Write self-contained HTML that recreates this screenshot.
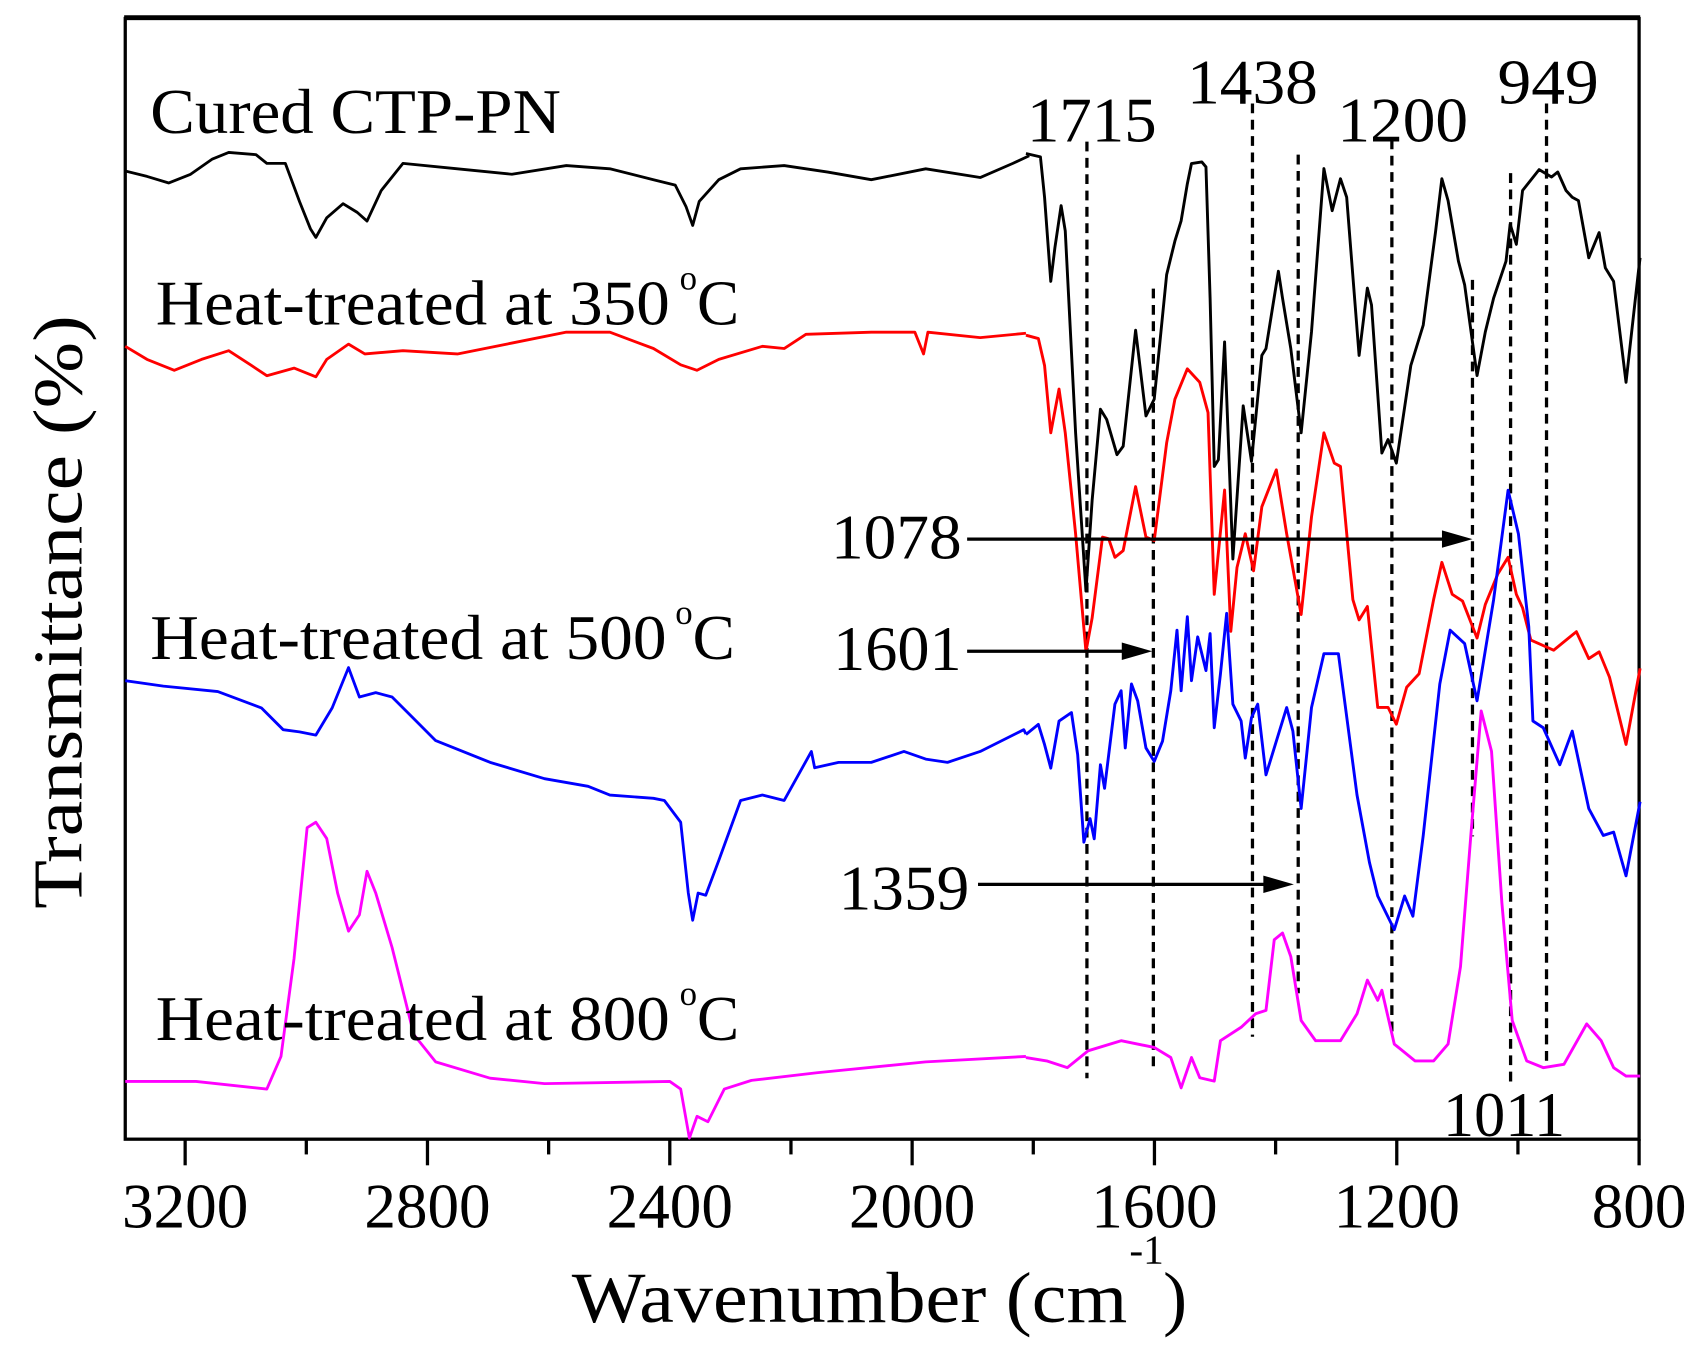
<!DOCTYPE html>
<html><head><meta charset="utf-8"><style>
html,body{margin:0;padding:0;background:#fff;}
svg{display:block;}
text{font-family:"Liberation Serif",serif;fill:#000;}
</style></head><body>
<svg width="1699" height="1357" viewBox="0 0 1560 1246" preserveAspectRatio="none" xmlns="http://www.w3.org/2000/svg">
<rect x="115" y="17" width="1390" height="1029" fill="none" stroke="#000" stroke-width="3"/>
<line x1="114" y1="16" x2="1506" y2="16" stroke="#000" stroke-width="4"/>
<g stroke="#000" stroke-width="3">
<line x1="170" y1="1046" x2="170" y2="1070"/><line x1="281.25" y1="1046" x2="281.25" y2="1060"/>
<line x1="392.5" y1="1046" x2="392.5" y2="1070"/><line x1="503.75" y1="1046" x2="503.75" y2="1060"/>
<line x1="615" y1="1046" x2="615" y2="1070"/><line x1="726.25" y1="1046" x2="726.25" y2="1060"/>
<line x1="837.5" y1="1046" x2="837.5" y2="1070"/><line x1="948.75" y1="1046" x2="948.75" y2="1060"/>
<line x1="1060" y1="1046" x2="1060" y2="1070"/><line x1="1171.25" y1="1046" x2="1171.25" y2="1060"/>
<line x1="1282.5" y1="1046" x2="1282.5" y2="1070"/><line x1="1393.75" y1="1046" x2="1393.75" y2="1060"/>
<line x1="1505" y1="1046" x2="1505" y2="1070"/>
</g>
<g font-size="58" text-anchor="middle">
<text x="170" y="1127">3200</text><text x="392.5" y="1127">2800</text><text x="615" y="1127">2400</text>
<text x="837.5" y="1127">2000</text><text x="1060" y="1127">1600</text><text x="1282.5" y="1127">1200</text>
<text x="1505" y="1127">800</text>
</g>
<text x="525" y="1214" font-size="66" textLength="510" lengthAdjust="spacingAndGlyphs">Wavenumber (cm</text>
<text x="1037" y="1160" font-size="38">-1</text>
<text x="1068" y="1214" font-size="66">)</text>
<text transform="translate(75,562) rotate(-90)" font-size="64" text-anchor="middle" textLength="545" lengthAdjust="spacingAndGlyphs">Transmittance (%)</text>

<g stroke="#000" stroke-width="3" stroke-dasharray="9,6">
<line x1="998" y1="130" x2="998" y2="990"/>
<line x1="1059" y1="265" x2="1059" y2="985"/>
<line x1="1150" y1="95" x2="1150" y2="952"/>
<line x1="1192" y1="142" x2="1192" y2="912"/>
<line x1="1278" y1="128" x2="1278" y2="950"/>
<line x1="1352" y1="257" x2="1352" y2="768"/>
<line x1="1387" y1="159" x2="1387" y2="993"/>
<line x1="1420" y1="95" x2="1420" y2="975"/>
</g>

<g fill="none" stroke="#000" stroke-width="2.6" stroke-linejoin="round">
<polyline points="115,157 135,162 155,168 175,160 195,146 210,140 235,142 245,150 262,150 275,185 285,210 290,218 300,200 315,187 328,195 337,203 350,175 370,150 420,155 470,160 520,152 560,155 600,165 620,170 630,190 636,207 642,185 660,165 680,155 720,152 760,158 800,165 850,155 900,163 930,150 945,143"/>
<polyline transform="translate(942,119.3) scale(0.38,0.309)" vector-effect="non-scaling-stroke" stroke-width="2.9" points="0,70 35,80 45,200 60,450 70,350 85,225 95,300 120,900 145,1370 160,1100 180,830 195,860 220,965 235,940 265,595 290,850 310,800 340,430 360,330 375,270 390,160 400,100 425,95 435,110 445,500 455,1000 465,980 480,630 500,1275 525,820 545,985 570,670 580,650 610,420 620,500 640,650 665,900 690,600 720,115 740,240 760,145 775,200 805,670 825,470 835,520 860,960 875,920 895,990 930,700 960,580 990,300 1005,145 1020,210 1045,390 1060,460 1090,730 1110,600 1130,500 1160,390 1170,280 1185,340 1200,180 1240,118 1270,140 1285,125 1305,180 1320,200 1335,210 1360,380 1385,305 1400,410 1420,450 1450,750 1480,420 1484,380"/>
</g>
<g fill="none" stroke="#f00" stroke-width="2.6" stroke-linejoin="round">
<polyline points="115,318 135,330 160,340 185,330 210,322 230,335 245,345 270,338 290,346 300,330 320,316 335,325 370,322 420,325 470,315 520,305 560,305 600,320 625,335 640,340 660,330 700,318 720,320 740,307 800,305 840,305 848,325 852,305 900,310 942,306"/>
<polyline transform="translate(942,119.3) scale(0.38,0.309)" vector-effect="non-scaling-stroke" stroke-width="2.9" points="0,610 30,620 45,700 60,900 80,770 95,900 120,1200 145,1550 160,1450 185,1210 200,1215 215,1270 235,1250 265,1060 290,1210 310,1220 340,930 360,800 390,710 420,750 440,840 455,1380 480,1070 495,1490 510,1300 530,1200 550,1310 570,1120 605,1010 630,1200 665,1440 690,1150 720,900 745,990 760,1000 790,1396 805,1456 825,1416 850,1716 875,1716 895,1766 920,1656 950,1616 985,1396 1005,1285 1030,1380 1055,1400 1090,1510 1110,1410 1140,1320 1165,1270 1185,1380 1200,1420 1220,1516 1275,1546 1330,1491 1360,1571 1385,1551 1410,1626 1450,1826 1484,1600"/>
</g>
<g fill="none" stroke="#00f" stroke-width="2.6" stroke-linejoin="round">
<polyline points="115,625 150,630 200,635 240,650 260,670 275,672 290,675 305,650 320,613 330,640 345,636 360,640 380,660 400,680 450,700 500,715 540,722 560,730 600,733 610,735 625,755 632,820 636,845 641,820 648,822 660,790 680,735 700,730 720,735 745,690 748,705 770,700 800,700 830,690 850,697 870,700 900,690 940,670 942,674"/>
<polyline transform="translate(942,550.8) scale(0.38,0.309)" vector-effect="non-scaling-stroke" stroke-width="2.9" points="0,400 30,370 45,430 60,500 80,360 110,335 125,460 140,720 155,650 165,710 180,490 190,560 215,310 230,270 240,440 255,250 270,300 290,440 310,480 330,420 350,270 365,90 375,270 390,50 400,240 415,110 435,210 445,100 455,380 470,220 485,40 500,310 520,360 530,470 545,350 560,310 580,520 600,440 630,320 645,390 665,620 690,320 720,160 755,160 800,580 830,780 850,880 890,980 915,880 935,940 960,700 1000,250 1025,90 1060,130 1090,300 1110,150 1130,0 1165,-326 1190,-196 1215,80 1225,360 1250,380 1290,490 1320,390 1360,620 1395,700 1420,690 1450,820 1484,600"/>
</g>
<g fill="none" stroke="#f0f" stroke-width="2.6" stroke-linejoin="round">
<polyline points="115,993 180,993 245,1000 258,970 270,880 282,760 290,755 300,770 310,820 320,855 330,840 337,800 345,820 360,870 380,950 400,975 450,990 500,995 615,993 625,1000 633,1045 640,1025 650,1030 665,1000 690,992 750,985 850,975 942,970"/>
<polyline transform="translate(942,550.8) scale(0.38,0.309)" vector-effect="non-scaling-stroke" stroke-width="2.9" points="0,1360 50,1370 100,1390 150,1340 230,1310 310,1330 350,1360 375,1450 400,1360 420,1420 455,1430 470,1310 520,1270 555,1230 580,1220 600,1010 620,990 640,1060 665,1250 700,1310 760,1310 800,1230 825,1130 850,1190 860,1160 890,1320 940,1370 985,1370 1020,1320 1050,1090 1075,700 1100,330 1125,450 1150,900 1175,1250 1210,1370 1250,1390 1300,1380 1355,1260 1390,1310 1420,1390 1450,1415 1484,1415"/>
</g>

<g stroke="#000" stroke-width="3">
<line x1="888" y1="495" x2="1330" y2="495"/>
<line x1="888" y1="598" x2="1036" y2="598"/>
<line x1="898" y1="812" x2="1166" y2="812"/>
</g>
<g fill="#000">
<polygon points="1352,495 1324,487 1324,503"/>
<polygon points="1058,598 1030,590 1030,606"/>
<polygon points="1188,812 1160,804 1160,820"/>
</g>

<g font-size="58">
<text x="138" y="122" textLength="377" lengthAdjust="spacingAndGlyphs">Cured CTP-PN</text>
<text x="143" y="298" textLength="472" lengthAdjust="spacingAndGlyphs">Heat-treated at 350</text>
<text x="640" y="298">C</text>
<text x="138" y="605" textLength="474" lengthAdjust="spacingAndGlyphs">Heat-treated at 500</text>
<text x="636" y="605">C</text>
<text x="143" y="955" textLength="472" lengthAdjust="spacingAndGlyphs">Heat-treated at 800</text>
<text x="640" y="955">C</text>
<text x="943" y="130" textLength="119" lengthAdjust="spacingAndGlyphs">1715</text>
<text x="1090" y="95" textLength="120" lengthAdjust="spacingAndGlyphs">1438</text>
<text x="1228" y="130" textLength="120" lengthAdjust="spacingAndGlyphs">1200</text>
<text x="1375" y="95" textLength="93" lengthAdjust="spacingAndGlyphs">949</text>
<text x="763" y="513" textLength="120" lengthAdjust="spacingAndGlyphs">1078</text>
<text x="765" y="615" textLength="118" lengthAdjust="spacingAndGlyphs">1601</text>
<text x="770" y="835" textLength="120" lengthAdjust="spacingAndGlyphs">1359</text>
<text x="1325" y="1043" textLength="112" lengthAdjust="spacingAndGlyphs">1011</text>
</g>
<g font-size="32">
<text x="624" y="266">o</text>
<text x="620" y="573">o</text>
<text x="624" y="923">o</text>
</g>
</svg>
</body></html>
